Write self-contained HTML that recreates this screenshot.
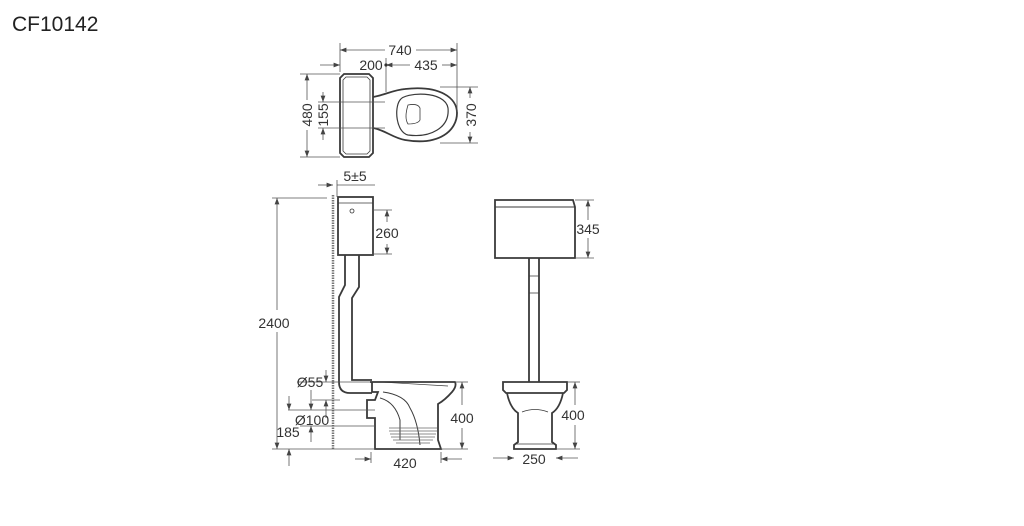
<!DOCTYPE html>
<html><head><meta charset="utf-8"><style>
html,body{margin:0;padding:0;background:#fff;width:1024px;height:526px;overflow:hidden}
svg{display:block}
text{font-family:"Liberation Sans",sans-serif;fill:#333}
</style></head><body>
<svg width="1024" height="526" viewBox="0 0 1024 526" xmlns="http://www.w3.org/2000/svg">
<defs>
<marker id="a" markerWidth="8" markerHeight="6" refX="8" refY="3" orient="auto"><path d="M0,0 L8,3 L0,6 Z" fill="#444"/></marker>
</defs>
<text x="12" y="31" font-size="21" style="fill:#222">CF10142</text>

<g stroke="#3a3a3a" fill="none" stroke-width="1.8">
<path d="M344,74 H369 L373,78 V153 L369,157 H344 L340,153 V78 Z"/>
<path d="M346,77 H367 L370,80 V151 L367,154 H346 L343,151 V80 Z" stroke-width="0.8"/>
<path d="M373,97 C385,95 393,90 405,89 C440,85 457,98 457,113 C457,130 440,146 405,140 C393,138 385,130 373,128"/>
<path d="M400,100 C405,92 445,90 448,108 C450,128 430,138 408,135 C396,132 394,108 400,100 Z" stroke-width="1.2"/>
<path d="M408,105 Q418,103 420,108 V120 Q418,124 408,124 Q404,118 408,105 Z" stroke-width="0.8"/>
</g>
<g stroke="#555" stroke-width="0.8" fill="none">
<line x1="340" y1="43" x2="340" y2="72"/><line x1="457" y1="43" x2="457" y2="112"/>
<line x1="385" y1="50" x2="340" y2="50" marker-end="url(#a)"/>
<line x1="416" y1="50" x2="457" y2="50" marker-end="url(#a)"/>
<line x1="320" y1="65" x2="340" y2="65" marker-end="url(#a)"/>
<line x1="386" y1="58" x2="386" y2="92"/>
<line x1="410" y1="65" x2="386" y2="65" marker-end="url(#a)"/>
<line x1="442" y1="65" x2="457" y2="65" marker-end="url(#a)"/>
<line x1="300" y1="74" x2="340" y2="74"/><line x1="300" y1="157" x2="340" y2="157"/>
<line x1="307" y1="100" x2="307" y2="74" marker-end="url(#a)"/><line x1="307" y1="130" x2="307" y2="157" marker-end="url(#a)"/>
<line x1="318" y1="102" x2="385" y2="102"/><line x1="318" y1="128" x2="385" y2="128"/>
<line x1="323" y1="92" x2="323" y2="102" marker-end="url(#a)"/><line x1="323" y1="140" x2="323" y2="128" marker-end="url(#a)"/>
<line x1="440" y1="87" x2="478" y2="87"/><line x1="440" y1="143" x2="478" y2="143"/>
<line x1="470" y1="98" x2="470" y2="87" marker-end="url(#a)"/><line x1="470" y1="132" x2="470" y2="143" marker-end="url(#a)"/>
</g>
<circle cx="386" cy="65" r="1.6" fill="#333"/>
<text x="400" y="55" font-size="14" text-anchor="middle">740</text>
<text x="371" y="70" font-size="14" text-anchor="middle">200</text>
<text x="426" y="70" font-size="14" text-anchor="middle">435</text>
<text font-size="14" transform="translate(312,115) rotate(-90)" text-anchor="middle">480</text>
<text font-size="14" transform="translate(328,115) rotate(-90)" text-anchor="middle">155</text>
<text font-size="14" transform="translate(476,115) rotate(-90)" text-anchor="middle">370</text>

<line x1="333" y1="195" x2="333" y2="450" stroke="#777" stroke-width="2.5" stroke-dasharray="1.5 1"/>
<g stroke="#3a3a3a" fill="none" stroke-width="1.8">
<rect x="338" y="197" width="35" height="58"/>
<line x1="338" y1="203" x2="373" y2="203" stroke-width="0.8"/>
<path d="M345,255 V285 L339,297 V382 Q339,393 350,393 H372"/>
<path d="M359,255 V287 L352,298 V380 H372"/>
<path d="M370,382 H455 Q457,386 452,392 Q445,400 438,404 V440 L441,449 H375 V418 H367 V400 H375 L378,392 H372 V382"/>
<path d="M383,392 Q405,395 410,408 Q418,422 420,445" stroke-width="1"/>
<path d="M380,398 Q395,402 400,420 V440" stroke-width="1"/>
<path d="M380,382 L448,386" stroke-width="0.7"/>
</g>
<g stroke="#666" stroke-width="0.7">
<line x1="389" y1="428" x2="437" y2="428"/><line x1="389" y1="431" x2="437" y2="431"/><line x1="390" y1="434" x2="436" y2="434"/><line x1="391" y1="437" x2="435" y2="437"/><line x1="393" y1="440" x2="433" y2="440"/><line x1="396" y1="443" x2="430" y2="443"/>
</g>
<circle cx="352" cy="211" r="2" fill="none" stroke="#333" stroke-width="0.8"/>
<g stroke="#555" stroke-width="0.8" fill="none">
<line x1="318" y1="185" x2="333" y2="185" marker-end="url(#a)"/><line x1="337" y1="185" x2="375" y2="185"/>
<line x1="337" y1="180" x2="337" y2="197"/>
<line x1="372" y1="210" x2="392" y2="210"/><line x1="372" y1="254" x2="392" y2="254"/>
<line x1="387" y1="222" x2="387" y2="210" marker-end="url(#a)"/><line x1="387" y1="244" x2="387" y2="254" marker-end="url(#a)"/>
<line x1="272" y1="198" x2="327" y2="198"/><line x1="272" y1="449" x2="375" y2="449"/>
<line x1="277" y1="310" x2="277" y2="198" marker-end="url(#a)"/><line x1="277" y1="332" x2="277" y2="449" marker-end="url(#a)"/>
<line x1="289" y1="466" x2="289" y2="449" marker-end="url(#a)"/>
<line x1="297" y1="382" x2="370" y2="382"/><line x1="326" y1="370" x2="326" y2="382" marker-end="url(#a)"/>
<line x1="312" y1="400" x2="340" y2="400"/>
<line x1="326" y1="418" x2="326" y2="400" marker-end="url(#a)"/>
<line x1="311" y1="390" x2="311" y2="410" marker-end="url(#a)"/>
<line x1="288" y1="410" x2="375" y2="410"/><line x1="289" y1="396" x2="289" y2="410" marker-end="url(#a)"/>
<line x1="300" y1="426" x2="375" y2="426"/><line x1="311" y1="442" x2="311" y2="426" marker-end="url(#a)"/>
<line x1="455" y1="382" x2="468" y2="382"/><line x1="441" y1="449" x2="468" y2="449"/>
<line x1="462" y1="405" x2="462" y2="382" marker-end="url(#a)"/><line x1="462" y1="428" x2="462" y2="449" marker-end="url(#a)"/>
<line x1="355" y1="459" x2="371" y2="459" marker-end="url(#a)"/><line x1="462" y1="459" x2="441" y2="459" marker-end="url(#a)"/>
<line x1="371" y1="452" x2="371" y2="463"/><line x1="441" y1="452" x2="441" y2="463"/>
</g>
<text x="355" y="181" font-size="14" text-anchor="middle">5±5</text>
<text x="387" y="238" font-size="14" text-anchor="middle">260</text>
<text x="274" y="328" font-size="14" text-anchor="middle">2400</text>
<text x="310" y="387" font-size="14" text-anchor="middle">Ø55</text>
<text x="312" y="425" font-size="14" text-anchor="middle">Ø100</text>
<text x="288" y="437" font-size="14" text-anchor="middle">185</text>
<text x="462" y="423" font-size="14" text-anchor="middle">400</text>
<text x="405" y="468" font-size="14" text-anchor="middle">420</text>

<g stroke="#3a3a3a" fill="none" stroke-width="1.8">
<path d="M495,200 H573 L575,207 V258 H495 V207 Z"/>
<line x1="495" y1="207" x2="575" y2="207" stroke-width="1"/>
<path d="M529,258 V382 M539,258 V382"/>
<path d="M529,276 H539 M529,293 H539" stroke-width="0.8"/>
<path d="M503,382 H567 V390 L564,393 H506 L503,390 Z"/>
<path d="M507,393 Q510,408 518,413 V442 L514,445 V449 H556 V445 L552,442 V413 Q560,408 563,393"/>
<path d="M522,412 Q535,407 548,412" stroke-width="0.8"/>
<line x1="516" y1="444" x2="554" y2="444" stroke-width="0.8"/>
</g>
<g stroke="#555" stroke-width="0.8" fill="none">
<line x1="575" y1="200" x2="594" y2="200"/><line x1="575" y1="258" x2="594" y2="258"/>
<line x1="588" y1="220" x2="588" y2="200" marker-end="url(#a)"/><line x1="588" y1="238" x2="588" y2="258" marker-end="url(#a)"/>
<line x1="567" y1="382" x2="580" y2="382"/><line x1="556" y1="449" x2="580" y2="449"/>
<line x1="575" y1="405" x2="575" y2="382" marker-end="url(#a)"/><line x1="575" y1="425" x2="575" y2="449" marker-end="url(#a)"/>
<line x1="493" y1="458" x2="514" y2="458" marker-end="url(#a)"/><line x1="578" y1="458" x2="556" y2="458" marker-end="url(#a)"/>
</g>
<text x="588" y="234" font-size="14" text-anchor="middle">345</text>
<text x="573" y="420" font-size="14" text-anchor="middle">400</text>
<text x="534" y="464" font-size="14" text-anchor="middle">250</text>
</svg>
</body></html>
